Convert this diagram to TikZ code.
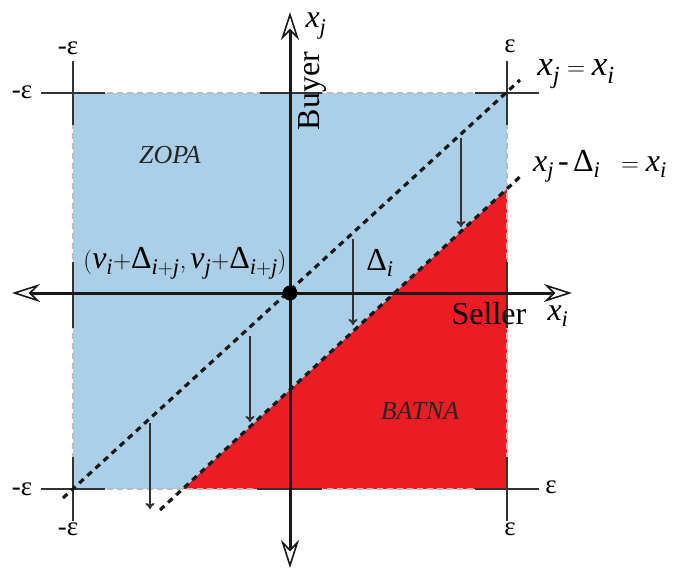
\documentclass[tikz,border=0pt]{standalone}
\usepackage{amsmath}
\usepackage{fontspec}
\setmainfont{Liberation Serif}
\usetikzlibrary{arrows.meta}
\definecolor{zopa}{HTML}{ABCFE6}
\definecolor{batna}{HTML}{ED1C24}
\definecolor{tickc}{HTML}{333333}
\definecolor{edgec}{HTML}{BBBBBB}
\newcommand\ix[1]{\textit{#1}}
\tikzset{
  lbl/.style={inner sep=0pt, font=\fontsize{32}{38}\selectfont},
  eqlbl/.style={inner sep=0pt, font=\fontsize{35}{40}\selectfont},
  eps/.style={inner sep=0pt, font=\fontsize{27}{32}\selectfont},
  region/.style={inner sep=0pt, font=\fontsize{26}{31}\selectfont\itshape, text=black!85},
  axhead/.style={Stealth[open, length=28pt, width=18pt, inset=9pt, line width=1.6pt]},
  axis/.style={line width=3pt, black!90, {Stealth[open, length=28pt, width=18pt, inset=9pt, line width=1.6pt]}-{Stealth[open, length=28pt, width=18pt, inset=9pt, line width=1.6pt]}},
  tickline/.style={line width=1.8pt, tickc},
  diag/.style={line width=3.2pt, black!90, dash pattern=on 6pt off 5pt},
  shiftarrow/.style={line width=2pt, tickc, -{To[length=6pt, width=9pt]}},
}
\begin{document}
\begin{tikzpicture}[x=1pt, y=-1pt]
\useasboundingbox (0,0) rectangle (678,570);
% regions
\fill[zopa] (73,93) rectangle (507,489);
\fill[batna] (183,489) -- (507,489) -- (507,189) -- cycle;
\draw[edgec, line width=1.8pt, dash pattern=on 6pt off 4pt] (73,93) rectangle (507,489);
% corner and axis ticks
\coordinate (TL) at (73,93);
\coordinate (TR) at (507,93);
\coordinate (BL) at (73,489);
\coordinate (BR) at (507,489);
\foreach \c in {TL,TR,BL,BR}{
  \draw[tickline] ([xshift=-32pt]\c) -- ([xshift=32pt]\c);
  \draw[tickline] ([yshift=-32pt]\c) -- ([yshift=32pt]\c);
}
\coordinate (AT) at (290,93);
\coordinate (AB) at (290,489);
\coordinate (AL) at (73,293);
\coordinate (AR) at (507,293);
\draw[tickline] ([xshift=-30pt]AT) -- ([xshift=32pt]AT);
\draw[tickline] ([xshift=-33pt]AB) -- ([xshift=32pt]AB);
\draw[tickline] ([yshift=-35pt]AL) -- ([yshift=31pt]AL);
\draw[tickline] ([yshift=-35pt]AR) -- ([yshift=31pt]AR);
% diagonal dotted lines
\coordinate (d1a) at (63,498);
\coordinate (d1b) at (520,80);
\coordinate (d2a) at (160,510);
\coordinate (d2b) at (523,174);
\draw[diag] (d1a) -- (d1b);
\draw[diag] (d2a) -- (d2b);
% shift arrows
\coordinate (s1a) at (461,138); \coordinate (s1b) at (461,227);
\coordinate (s2a) at (353,239); \coordinate (s2b) at (353,325);
\coordinate (s3a) at (250,336); \coordinate (s3b) at (250,422);
\coordinate (s4a) at (150,423); \coordinate (s4b) at (150,509);
\draw[shiftarrow] (s1a) -- (s1b);
\draw[shiftarrow] (s2a) -- (s2b);
\draw[shiftarrow] (s3a) -- (s3b);
\draw[shiftarrow] (s4a) -- (s4b);
% axes
\coordinate (xl) at (12,293); \coordinate (xr) at (572,293);
\coordinate (yb) at (290,568); \coordinate (yt) at (290,12);
\draw[axis] (xl) -- (xr);
\draw[axis] (yb) -- (yt);
\fill[black] (290,293) circle (7.5pt) node (origin) {};
% labels
\node[lbl] (xjlab) at (316,26) {$\ix{x}_{\ix{j}}$};
\node[lbl, rotate=90] (buyer) at (312,91) {Buyer};
\node[lbl] (seller) at (489,314) {Seller};
\node[lbl] (xilab) at (558,316) {$\ix{x}_{\ix{i}}$};
\node[eqlbl] (eqA) at (576,74) {$\ix{x}_{\ix{j}} = \ix{x}_{\ix{i}}$};
\node[lbl] (eqB) at (600,166) {$\ix{x}_{\ix{j}}\,\text{-}\,\text{Δ}_{\ix{i}}\;\; = \ix{x}_{\ix{i}}$};
\node[lbl] (deltai) at (380,263) {$\text{Δ}_{\ix{i}}$};
\node[lbl] (point) at (185,263) {$(\ix{ν}_{\ix{i}}{+}\text{Δ}_{\ix{i}{+}\ix{j}},\ix{ν}_{\ix{j}}{+}\text{Δ}_{\ix{i}{+}\ix{j}})$};
\node[region] (zopa) at (170,155) {ZOPA};
\node[region] (batna) at (420,411) {BATNA};
% epsilon labels
\node[eps] (e1) at (22,92) {-ε};
\node[eps] (e2) at (68,48) {-ε};
\node[eps] (e3) at (510,46) {ε};
\node[eps] (e4) at (22,489) {-ε};
\node[eps] (e5) at (68,529) {-ε};
\node[eps] (e6) at (551,487) {ε};
\node[eps] (e7) at (510,529) {ε};
\end{tikzpicture}
\end{document}
